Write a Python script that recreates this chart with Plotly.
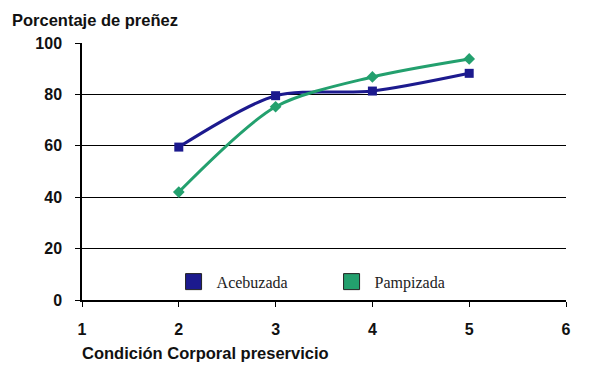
import plotly.graph_objects as go

condicion = [2, 3, 4, 5]
acebuzada = [59.5, 79.5, 81.3, 88.2]
pampizada = [42, 75.2, 86.8, 93.8]
series_names = ["Acebuzada", "Pampizada"]
colors = ["#1c1a8e", "#23a06e"]
x_ticks = [1, 2, 3, 4, 5, 6]
y_ticks = [0, 20, 40, 60, 80, 100]

fig = go.Figure()
fig.add_trace(go.Scatter(x=condicion, y=acebuzada, mode="lines+markers",
                         line=dict(color=colors[0], width=3, shape="spline", smoothing=0.8),
                         marker=dict(symbol="square", size=9, color=colors[0]),
                         showlegend=False))
fig.add_trace(go.Scatter(x=condicion, y=pampizada, mode="lines+markers",
                         line=dict(color=colors[1], width=3, shape="spline", smoothing=0.8),
                         marker=dict(symbol="diamond", size=9, color=colors[1]),
                         showlegend=False))
for name, c in zip(series_names, colors):
    fig.add_trace(go.Scatter(x=[None], y=[None], mode="markers", name=name,
                             marker=dict(symbol="square", size=16, color=c,
                                         line=dict(color="#222", width=1))))

fig.update_layout(
    width=584, height=359,
    margin=dict(l=74, r=26, t=35, b=67),
    paper_bgcolor="white", plot_bgcolor="white",
    font=dict(family="Liberation Sans, Arial", size=14, color="#111"),
    legend=dict(orientation="h", x=0.183, y=0.005, xanchor="left", yanchor="bottom",
                font=dict(family="Liberation Serif, Times New Roman", size=16, color="#222"),
                itemsizing="trace", itemwidth=36, bgcolor="rgba(0,0,0,0)", traceorder="normal",
                entrywidth=107),
    xaxis=dict(range=[1, 6], tickvals=x_ticks, showgrid=False, zeroline=False,
               showline=True, linecolor="black", linewidth=1.5,
               ticks="outside", ticklen=5, tickcolor="black", ticklabelstandoff=9,
               tickfont=dict(family="Liberation Sans, Arial", size=16, color="#111", weight="bold")),
    yaxis=dict(range=[0, 100], tickvals=y_ticks, showgrid=True, gridcolor="black", gridwidth=1,
               zeroline=False, showline=True, linecolor="black", linewidth=1.5,
               ticks="outside", ticklen=5, tickcolor="black", ticklabelstandoff=10,
               tickfont=dict(family="Liberation Sans, Arial", size=16, color="#111", weight="bold")),
    annotations=[
        dict(text="<b>Porcentaje de preñez</b>", xref="paper", yref="paper", x=-0.149, y=1.0,
             xanchor="left", yanchor="bottom", yshift=12, showarrow=False,
             font=dict(family="Liberation Sans, Arial", size=16.5, color="#111")),
        dict(text="<b>Condición Corporal preservicio</b>", xref="paper", yref="paper", x=-0.005, y=0,
             xanchor="left", yanchor="top", yshift=-42, showarrow=False,
             font=dict(family="Liberation Sans, Arial", size=16.5, color="#111")),
    ],
)
fig.write_html("out.html")
